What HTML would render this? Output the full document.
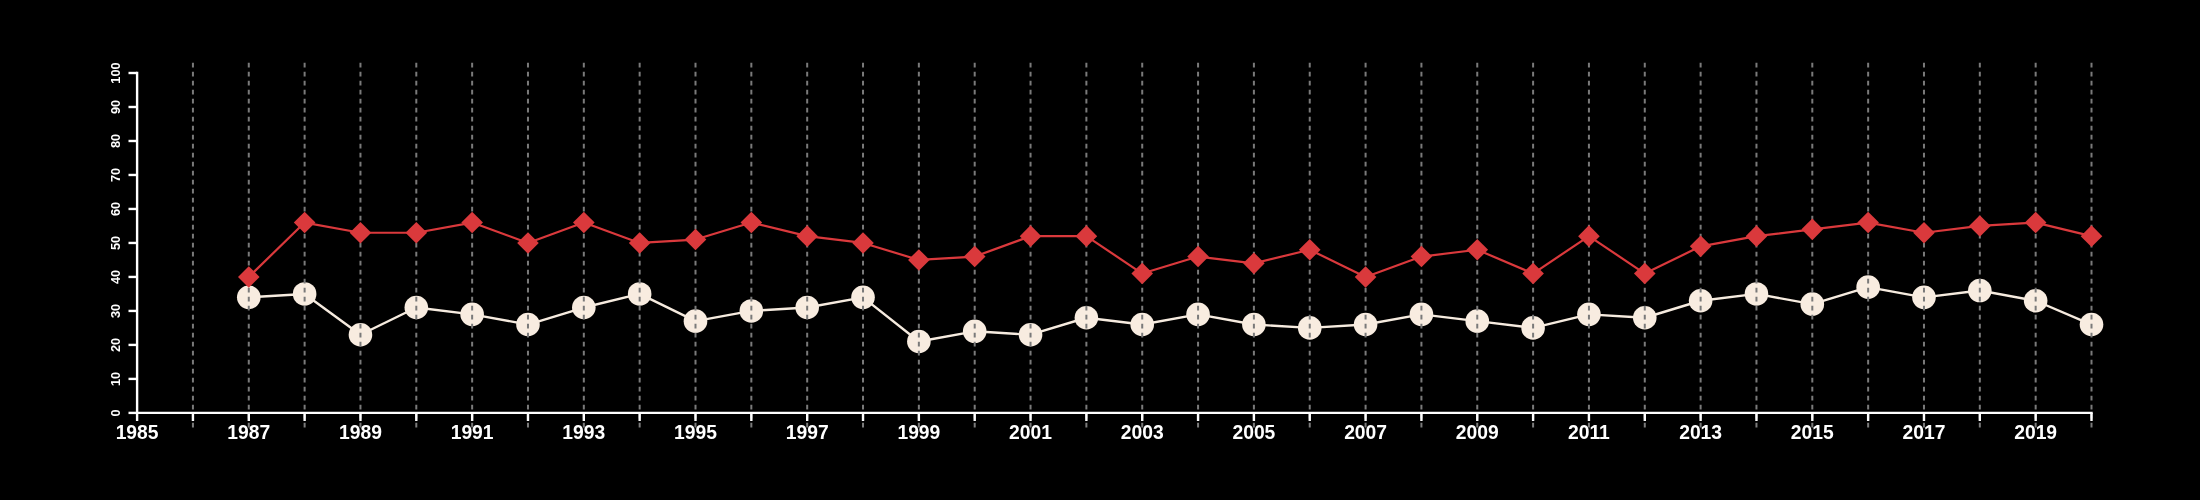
<!DOCTYPE html><html><head><meta charset="utf-8"><style>html,body{margin:0;padding:0;background:#000;width:2200px;height:500px;overflow:hidden}svg{display:block;will-change:transform}text{font-family:"Liberation Sans",sans-serif;font-weight:bold;fill:#fff}</style></head><body>
<svg width="2200" height="500" viewBox="0 0 2200 500">
<rect width="2200" height="500" fill="#000"/>
<polyline points="248.78,297.33 304.62,293.93 360.46,334.72 416.30,307.53 472.14,314.33 527.98,324.53 583.82,307.53 639.66,293.93 695.50,321.13 751.34,310.93 807.18,307.53 863.02,297.33 918.86,341.52 974.70,331.32 1030.54,334.72 1086.38,317.73 1142.22,324.53 1198.06,314.33 1253.90,324.53 1309.74,327.92 1365.58,324.53 1421.42,314.33 1477.26,321.13 1533.10,327.92 1588.94,314.33 1644.78,317.73 1700.62,300.73 1756.46,293.93 1812.30,304.13 1868.14,287.14 1923.98,297.33 1979.82,290.54 2035.66,300.73 2091.50,324.53" fill="none" stroke="#f6ebdf" stroke-width="2.4" stroke-linejoin="round"/>
<circle cx="248.78" cy="297.33" r="11.8" fill="#f8ece0"/>
<circle cx="304.62" cy="293.93" r="11.8" fill="#f8ece0"/>
<circle cx="360.46" cy="334.72" r="11.8" fill="#f8ece0"/>
<circle cx="416.30" cy="307.53" r="11.8" fill="#f8ece0"/>
<circle cx="472.14" cy="314.33" r="11.8" fill="#f8ece0"/>
<circle cx="527.98" cy="324.53" r="11.8" fill="#f8ece0"/>
<circle cx="583.82" cy="307.53" r="11.8" fill="#f8ece0"/>
<circle cx="639.66" cy="293.93" r="11.8" fill="#f8ece0"/>
<circle cx="695.50" cy="321.13" r="11.8" fill="#f8ece0"/>
<circle cx="751.34" cy="310.93" r="11.8" fill="#f8ece0"/>
<circle cx="807.18" cy="307.53" r="11.8" fill="#f8ece0"/>
<circle cx="863.02" cy="297.33" r="11.8" fill="#f8ece0"/>
<circle cx="918.86" cy="341.52" r="11.8" fill="#f8ece0"/>
<circle cx="974.70" cy="331.32" r="11.8" fill="#f8ece0"/>
<circle cx="1030.54" cy="334.72" r="11.8" fill="#f8ece0"/>
<circle cx="1086.38" cy="317.73" r="11.8" fill="#f8ece0"/>
<circle cx="1142.22" cy="324.53" r="11.8" fill="#f8ece0"/>
<circle cx="1198.06" cy="314.33" r="11.8" fill="#f8ece0"/>
<circle cx="1253.90" cy="324.53" r="11.8" fill="#f8ece0"/>
<circle cx="1309.74" cy="327.92" r="11.8" fill="#f8ece0"/>
<circle cx="1365.58" cy="324.53" r="11.8" fill="#f8ece0"/>
<circle cx="1421.42" cy="314.33" r="11.8" fill="#f8ece0"/>
<circle cx="1477.26" cy="321.13" r="11.8" fill="#f8ece0"/>
<circle cx="1533.10" cy="327.92" r="11.8" fill="#f8ece0"/>
<circle cx="1588.94" cy="314.33" r="11.8" fill="#f8ece0"/>
<circle cx="1644.78" cy="317.73" r="11.8" fill="#f8ece0"/>
<circle cx="1700.62" cy="300.73" r="11.8" fill="#f8ece0"/>
<circle cx="1756.46" cy="293.93" r="11.8" fill="#f8ece0"/>
<circle cx="1812.30" cy="304.13" r="11.8" fill="#f8ece0"/>
<circle cx="1868.14" cy="287.14" r="11.8" fill="#f8ece0"/>
<circle cx="1923.98" cy="297.33" r="11.8" fill="#f8ece0"/>
<circle cx="1979.82" cy="290.54" r="11.8" fill="#f8ece0"/>
<circle cx="2035.66" cy="300.73" r="11.8" fill="#f8ece0"/>
<circle cx="2091.50" cy="324.53" r="11.8" fill="#f8ece0"/>
<line x1="192.94" y1="62.8" x2="192.94" y2="428.0" stroke="#7a7a7a" stroke-width="2.0" stroke-dasharray="4.6 4.4"/>
<line x1="248.78" y1="62.8" x2="248.78" y2="428.0" stroke="#7a7a7a" stroke-width="2.0" stroke-dasharray="4.6 4.4"/>
<line x1="304.62" y1="62.8" x2="304.62" y2="428.0" stroke="#7a7a7a" stroke-width="2.0" stroke-dasharray="4.6 4.4"/>
<line x1="360.46" y1="62.8" x2="360.46" y2="428.0" stroke="#7a7a7a" stroke-width="2.0" stroke-dasharray="4.6 4.4"/>
<line x1="416.30" y1="62.8" x2="416.30" y2="428.0" stroke="#7a7a7a" stroke-width="2.0" stroke-dasharray="4.6 4.4"/>
<line x1="472.14" y1="62.8" x2="472.14" y2="428.0" stroke="#7a7a7a" stroke-width="2.0" stroke-dasharray="4.6 4.4"/>
<line x1="527.98" y1="62.8" x2="527.98" y2="428.0" stroke="#7a7a7a" stroke-width="2.0" stroke-dasharray="4.6 4.4"/>
<line x1="583.82" y1="62.8" x2="583.82" y2="428.0" stroke="#7a7a7a" stroke-width="2.0" stroke-dasharray="4.6 4.4"/>
<line x1="639.66" y1="62.8" x2="639.66" y2="428.0" stroke="#7a7a7a" stroke-width="2.0" stroke-dasharray="4.6 4.4"/>
<line x1="695.50" y1="62.8" x2="695.50" y2="428.0" stroke="#7a7a7a" stroke-width="2.0" stroke-dasharray="4.6 4.4"/>
<line x1="751.34" y1="62.8" x2="751.34" y2="428.0" stroke="#7a7a7a" stroke-width="2.0" stroke-dasharray="4.6 4.4"/>
<line x1="807.18" y1="62.8" x2="807.18" y2="428.0" stroke="#7a7a7a" stroke-width="2.0" stroke-dasharray="4.6 4.4"/>
<line x1="863.02" y1="62.8" x2="863.02" y2="428.0" stroke="#7a7a7a" stroke-width="2.0" stroke-dasharray="4.6 4.4"/>
<line x1="918.86" y1="62.8" x2="918.86" y2="428.0" stroke="#7a7a7a" stroke-width="2.0" stroke-dasharray="4.6 4.4"/>
<line x1="974.70" y1="62.8" x2="974.70" y2="428.0" stroke="#7a7a7a" stroke-width="2.0" stroke-dasharray="4.6 4.4"/>
<line x1="1030.54" y1="62.8" x2="1030.54" y2="428.0" stroke="#7a7a7a" stroke-width="2.0" stroke-dasharray="4.6 4.4"/>
<line x1="1086.38" y1="62.8" x2="1086.38" y2="428.0" stroke="#7a7a7a" stroke-width="2.0" stroke-dasharray="4.6 4.4"/>
<line x1="1142.22" y1="62.8" x2="1142.22" y2="428.0" stroke="#7a7a7a" stroke-width="2.0" stroke-dasharray="4.6 4.4"/>
<line x1="1198.06" y1="62.8" x2="1198.06" y2="428.0" stroke="#7a7a7a" stroke-width="2.0" stroke-dasharray="4.6 4.4"/>
<line x1="1253.90" y1="62.8" x2="1253.90" y2="428.0" stroke="#7a7a7a" stroke-width="2.0" stroke-dasharray="4.6 4.4"/>
<line x1="1309.74" y1="62.8" x2="1309.74" y2="428.0" stroke="#7a7a7a" stroke-width="2.0" stroke-dasharray="4.6 4.4"/>
<line x1="1365.58" y1="62.8" x2="1365.58" y2="428.0" stroke="#7a7a7a" stroke-width="2.0" stroke-dasharray="4.6 4.4"/>
<line x1="1421.42" y1="62.8" x2="1421.42" y2="428.0" stroke="#7a7a7a" stroke-width="2.0" stroke-dasharray="4.6 4.4"/>
<line x1="1477.26" y1="62.8" x2="1477.26" y2="428.0" stroke="#7a7a7a" stroke-width="2.0" stroke-dasharray="4.6 4.4"/>
<line x1="1533.10" y1="62.8" x2="1533.10" y2="428.0" stroke="#7a7a7a" stroke-width="2.0" stroke-dasharray="4.6 4.4"/>
<line x1="1588.94" y1="62.8" x2="1588.94" y2="428.0" stroke="#7a7a7a" stroke-width="2.0" stroke-dasharray="4.6 4.4"/>
<line x1="1644.78" y1="62.8" x2="1644.78" y2="428.0" stroke="#7a7a7a" stroke-width="2.0" stroke-dasharray="4.6 4.4"/>
<line x1="1700.62" y1="62.8" x2="1700.62" y2="428.0" stroke="#7a7a7a" stroke-width="2.0" stroke-dasharray="4.6 4.4"/>
<line x1="1756.46" y1="62.8" x2="1756.46" y2="428.0" stroke="#7a7a7a" stroke-width="2.0" stroke-dasharray="4.6 4.4"/>
<line x1="1812.30" y1="62.8" x2="1812.30" y2="428.0" stroke="#7a7a7a" stroke-width="2.0" stroke-dasharray="4.6 4.4"/>
<line x1="1868.14" y1="62.8" x2="1868.14" y2="428.0" stroke="#7a7a7a" stroke-width="2.0" stroke-dasharray="4.6 4.4"/>
<line x1="1923.98" y1="62.8" x2="1923.98" y2="428.0" stroke="#7a7a7a" stroke-width="2.0" stroke-dasharray="4.6 4.4"/>
<line x1="1979.82" y1="62.8" x2="1979.82" y2="428.0" stroke="#7a7a7a" stroke-width="2.0" stroke-dasharray="4.6 4.4"/>
<line x1="2035.66" y1="62.8" x2="2035.66" y2="428.0" stroke="#7a7a7a" stroke-width="2.0" stroke-dasharray="4.6 4.4"/>
<line x1="2091.50" y1="62.8" x2="2091.50" y2="428.0" stroke="#7a7a7a" stroke-width="2.0" stroke-dasharray="4.6 4.4"/>
<polyline points="248.78,276.94 304.62,222.56 360.46,232.75 416.30,232.75 472.14,222.56 527.98,242.95 583.82,222.56 639.66,242.95 695.50,239.55 751.34,222.56 807.18,236.15 863.02,242.95 918.86,259.94 974.70,256.55 1030.54,236.15 1086.38,236.15 1142.22,273.54 1198.06,256.55 1253.90,263.34 1309.74,249.75 1365.58,276.94 1421.42,256.55 1477.26,249.75 1533.10,273.54 1588.94,236.15 1644.78,273.54 1700.62,246.35 1756.46,236.15 1812.30,229.35 1868.14,222.56 1923.98,232.75 1979.82,225.95 2035.66,222.56 2091.50,236.15" fill="none" stroke="#da393c" stroke-width="2.2" stroke-linejoin="round"/>
<path d="M248.78 266.14L259.58 276.94L248.78 287.74L237.98 276.94Z" fill="#da393c"/>
<path d="M304.62 211.76L315.42 222.56L304.62 233.36L293.82 222.56Z" fill="#da393c"/>
<path d="M360.46 221.95L371.26 232.75L360.46 243.55L349.66 232.75Z" fill="#da393c"/>
<path d="M416.30 221.95L427.10 232.75L416.30 243.55L405.50 232.75Z" fill="#da393c"/>
<path d="M472.14 211.76L482.94 222.56L472.14 233.36L461.34 222.56Z" fill="#da393c"/>
<path d="M527.98 232.15L538.78 242.95L527.98 253.75L517.18 242.95Z" fill="#da393c"/>
<path d="M583.82 211.76L594.62 222.56L583.82 233.36L573.02 222.56Z" fill="#da393c"/>
<path d="M639.66 232.15L650.46 242.95L639.66 253.75L628.86 242.95Z" fill="#da393c"/>
<path d="M695.50 228.75L706.30 239.55L695.50 250.35L684.70 239.55Z" fill="#da393c"/>
<path d="M751.34 211.76L762.14 222.56L751.34 233.36L740.54 222.56Z" fill="#da393c"/>
<path d="M807.18 225.35L817.98 236.15L807.18 246.95L796.38 236.15Z" fill="#da393c"/>
<path d="M863.02 232.15L873.82 242.95L863.02 253.75L852.22 242.95Z" fill="#da393c"/>
<path d="M918.86 249.14L929.66 259.94L918.86 270.74L908.06 259.94Z" fill="#da393c"/>
<path d="M974.70 245.75L985.50 256.55L974.70 267.35L963.90 256.55Z" fill="#da393c"/>
<path d="M1030.54 225.35L1041.34 236.15L1030.54 246.95L1019.74 236.15Z" fill="#da393c"/>
<path d="M1086.38 225.35L1097.18 236.15L1086.38 246.95L1075.58 236.15Z" fill="#da393c"/>
<path d="M1142.22 262.74L1153.02 273.54L1142.22 284.34L1131.42 273.54Z" fill="#da393c"/>
<path d="M1198.06 245.75L1208.86 256.55L1198.06 267.35L1187.26 256.55Z" fill="#da393c"/>
<path d="M1253.90 252.54L1264.70 263.34L1253.90 274.14L1243.10 263.34Z" fill="#da393c"/>
<path d="M1309.74 238.95L1320.54 249.75L1309.74 260.55L1298.94 249.75Z" fill="#da393c"/>
<path d="M1365.58 266.14L1376.38 276.94L1365.58 287.74L1354.78 276.94Z" fill="#da393c"/>
<path d="M1421.42 245.75L1432.22 256.55L1421.42 267.35L1410.62 256.55Z" fill="#da393c"/>
<path d="M1477.26 238.95L1488.06 249.75L1477.26 260.55L1466.46 249.75Z" fill="#da393c"/>
<path d="M1533.10 262.74L1543.90 273.54L1533.10 284.34L1522.30 273.54Z" fill="#da393c"/>
<path d="M1588.94 225.35L1599.74 236.15L1588.94 246.95L1578.14 236.15Z" fill="#da393c"/>
<path d="M1644.78 262.74L1655.58 273.54L1644.78 284.34L1633.98 273.54Z" fill="#da393c"/>
<path d="M1700.62 235.55L1711.42 246.35L1700.62 257.15L1689.82 246.35Z" fill="#da393c"/>
<path d="M1756.46 225.35L1767.26 236.15L1756.46 246.95L1745.66 236.15Z" fill="#da393c"/>
<path d="M1812.30 218.55L1823.10 229.35L1812.30 240.15L1801.50 229.35Z" fill="#da393c"/>
<path d="M1868.14 211.76L1878.94 222.56L1868.14 233.36L1857.34 222.56Z" fill="#da393c"/>
<path d="M1923.98 221.95L1934.78 232.75L1923.98 243.55L1913.18 232.75Z" fill="#da393c"/>
<path d="M1979.82 215.15L1990.62 225.95L1979.82 236.75L1969.02 225.95Z" fill="#da393c"/>
<path d="M2035.66 211.76L2046.46 222.56L2035.66 233.36L2024.86 222.56Z" fill="#da393c"/>
<path d="M2091.50 225.35L2102.30 236.15L2091.50 246.95L2080.70 236.15Z" fill="#da393c"/>
<line x1="137.1" y1="71.80" x2="137.1" y2="414.10" stroke="#fff" stroke-width="2.4"/>
<line x1="128.50" y1="412.90" x2="137.10" y2="412.90" stroke="#fff" stroke-width="2.4"/>
<text transform="translate(119.8,412.90) rotate(-90)" text-anchor="middle" font-size="12.8">0</text>
<line x1="128.50" y1="378.91" x2="137.10" y2="378.91" stroke="#fff" stroke-width="2.4"/>
<text transform="translate(119.8,378.91) rotate(-90)" text-anchor="middle" font-size="12.8">10</text>
<line x1="128.50" y1="344.92" x2="137.10" y2="344.92" stroke="#fff" stroke-width="2.4"/>
<text transform="translate(119.8,344.92) rotate(-90)" text-anchor="middle" font-size="12.8">20</text>
<line x1="128.50" y1="310.93" x2="137.10" y2="310.93" stroke="#fff" stroke-width="2.4"/>
<text transform="translate(119.8,310.93) rotate(-90)" text-anchor="middle" font-size="12.8">30</text>
<line x1="128.50" y1="276.94" x2="137.10" y2="276.94" stroke="#fff" stroke-width="2.4"/>
<text transform="translate(119.8,276.94) rotate(-90)" text-anchor="middle" font-size="12.8">40</text>
<line x1="128.50" y1="242.95" x2="137.10" y2="242.95" stroke="#fff" stroke-width="2.4"/>
<text transform="translate(119.8,242.95) rotate(-90)" text-anchor="middle" font-size="12.8">50</text>
<line x1="128.50" y1="208.96" x2="137.10" y2="208.96" stroke="#fff" stroke-width="2.4"/>
<text transform="translate(119.8,208.96) rotate(-90)" text-anchor="middle" font-size="12.8">60</text>
<line x1="128.50" y1="174.97" x2="137.10" y2="174.97" stroke="#fff" stroke-width="2.4"/>
<text transform="translate(119.8,174.97) rotate(-90)" text-anchor="middle" font-size="12.8">70</text>
<line x1="128.50" y1="140.98" x2="137.10" y2="140.98" stroke="#fff" stroke-width="2.4"/>
<text transform="translate(119.8,140.98) rotate(-90)" text-anchor="middle" font-size="12.8">80</text>
<line x1="128.50" y1="106.99" x2="137.10" y2="106.99" stroke="#fff" stroke-width="2.4"/>
<text transform="translate(119.8,106.99) rotate(-90)" text-anchor="middle" font-size="12.8">90</text>
<line x1="128.50" y1="73.00" x2="137.10" y2="73.00" stroke="#fff" stroke-width="2.4"/>
<text transform="translate(119.8,73.00) rotate(-90)" text-anchor="middle" font-size="12.8">100</text>
<line x1="135.90" y1="412.9" x2="2092.70" y2="412.9" stroke="#fff" stroke-width="2.4"/>
<line x1="137.10" y1="412.90" x2="137.10" y2="421.00" stroke="#fff" stroke-width="2.4"/>
<line x1="192.94" y1="412.90" x2="192.94" y2="421.00" stroke="#fff" stroke-width="2.4"/>
<line x1="248.78" y1="412.90" x2="248.78" y2="421.00" stroke="#fff" stroke-width="2.4"/>
<line x1="304.62" y1="412.90" x2="304.62" y2="421.00" stroke="#fff" stroke-width="2.4"/>
<line x1="360.46" y1="412.90" x2="360.46" y2="421.00" stroke="#fff" stroke-width="2.4"/>
<line x1="416.30" y1="412.90" x2="416.30" y2="421.00" stroke="#fff" stroke-width="2.4"/>
<line x1="472.14" y1="412.90" x2="472.14" y2="421.00" stroke="#fff" stroke-width="2.4"/>
<line x1="527.98" y1="412.90" x2="527.98" y2="421.00" stroke="#fff" stroke-width="2.4"/>
<line x1="583.82" y1="412.90" x2="583.82" y2="421.00" stroke="#fff" stroke-width="2.4"/>
<line x1="639.66" y1="412.90" x2="639.66" y2="421.00" stroke="#fff" stroke-width="2.4"/>
<line x1="695.50" y1="412.90" x2="695.50" y2="421.00" stroke="#fff" stroke-width="2.4"/>
<line x1="751.34" y1="412.90" x2="751.34" y2="421.00" stroke="#fff" stroke-width="2.4"/>
<line x1="807.18" y1="412.90" x2="807.18" y2="421.00" stroke="#fff" stroke-width="2.4"/>
<line x1="863.02" y1="412.90" x2="863.02" y2="421.00" stroke="#fff" stroke-width="2.4"/>
<line x1="918.86" y1="412.90" x2="918.86" y2="421.00" stroke="#fff" stroke-width="2.4"/>
<line x1="974.70" y1="412.90" x2="974.70" y2="421.00" stroke="#fff" stroke-width="2.4"/>
<line x1="1030.54" y1="412.90" x2="1030.54" y2="421.00" stroke="#fff" stroke-width="2.4"/>
<line x1="1086.38" y1="412.90" x2="1086.38" y2="421.00" stroke="#fff" stroke-width="2.4"/>
<line x1="1142.22" y1="412.90" x2="1142.22" y2="421.00" stroke="#fff" stroke-width="2.4"/>
<line x1="1198.06" y1="412.90" x2="1198.06" y2="421.00" stroke="#fff" stroke-width="2.4"/>
<line x1="1253.90" y1="412.90" x2="1253.90" y2="421.00" stroke="#fff" stroke-width="2.4"/>
<line x1="1309.74" y1="412.90" x2="1309.74" y2="421.00" stroke="#fff" stroke-width="2.4"/>
<line x1="1365.58" y1="412.90" x2="1365.58" y2="421.00" stroke="#fff" stroke-width="2.4"/>
<line x1="1421.42" y1="412.90" x2="1421.42" y2="421.00" stroke="#fff" stroke-width="2.4"/>
<line x1="1477.26" y1="412.90" x2="1477.26" y2="421.00" stroke="#fff" stroke-width="2.4"/>
<line x1="1533.10" y1="412.90" x2="1533.10" y2="421.00" stroke="#fff" stroke-width="2.4"/>
<line x1="1588.94" y1="412.90" x2="1588.94" y2="421.00" stroke="#fff" stroke-width="2.4"/>
<line x1="1644.78" y1="412.90" x2="1644.78" y2="421.00" stroke="#fff" stroke-width="2.4"/>
<line x1="1700.62" y1="412.90" x2="1700.62" y2="421.00" stroke="#fff" stroke-width="2.4"/>
<line x1="1756.46" y1="412.90" x2="1756.46" y2="421.00" stroke="#fff" stroke-width="2.4"/>
<line x1="1812.30" y1="412.90" x2="1812.30" y2="421.00" stroke="#fff" stroke-width="2.4"/>
<line x1="1868.14" y1="412.90" x2="1868.14" y2="421.00" stroke="#fff" stroke-width="2.4"/>
<line x1="1923.98" y1="412.90" x2="1923.98" y2="421.00" stroke="#fff" stroke-width="2.4"/>
<line x1="1979.82" y1="412.90" x2="1979.82" y2="421.00" stroke="#fff" stroke-width="2.4"/>
<line x1="2035.66" y1="412.90" x2="2035.66" y2="421.00" stroke="#fff" stroke-width="2.4"/>
<line x1="2091.50" y1="412.90" x2="2091.50" y2="421.00" stroke="#fff" stroke-width="2.4"/>
<text x="137.10" y="438.8" text-anchor="middle" font-size="19.3">1985</text>
<text x="248.78" y="438.8" text-anchor="middle" font-size="19.3">1987</text>
<text x="360.46" y="438.8" text-anchor="middle" font-size="19.3">1989</text>
<text x="472.14" y="438.8" text-anchor="middle" font-size="19.3">1991</text>
<text x="583.82" y="438.8" text-anchor="middle" font-size="19.3">1993</text>
<text x="695.50" y="438.8" text-anchor="middle" font-size="19.3">1995</text>
<text x="807.18" y="438.8" text-anchor="middle" font-size="19.3">1997</text>
<text x="918.86" y="438.8" text-anchor="middle" font-size="19.3">1999</text>
<text x="1030.54" y="438.8" text-anchor="middle" font-size="19.3">2001</text>
<text x="1142.22" y="438.8" text-anchor="middle" font-size="19.3">2003</text>
<text x="1253.90" y="438.8" text-anchor="middle" font-size="19.3">2005</text>
<text x="1365.58" y="438.8" text-anchor="middle" font-size="19.3">2007</text>
<text x="1477.26" y="438.8" text-anchor="middle" font-size="19.3">2009</text>
<text x="1588.94" y="438.8" text-anchor="middle" font-size="19.3">2011</text>
<text x="1700.62" y="438.8" text-anchor="middle" font-size="19.3">2013</text>
<text x="1812.30" y="438.8" text-anchor="middle" font-size="19.3">2015</text>
<text x="1923.98" y="438.8" text-anchor="middle" font-size="19.3">2017</text>
<text x="2035.66" y="438.8" text-anchor="middle" font-size="19.3">2019</text>
</svg></body></html>
